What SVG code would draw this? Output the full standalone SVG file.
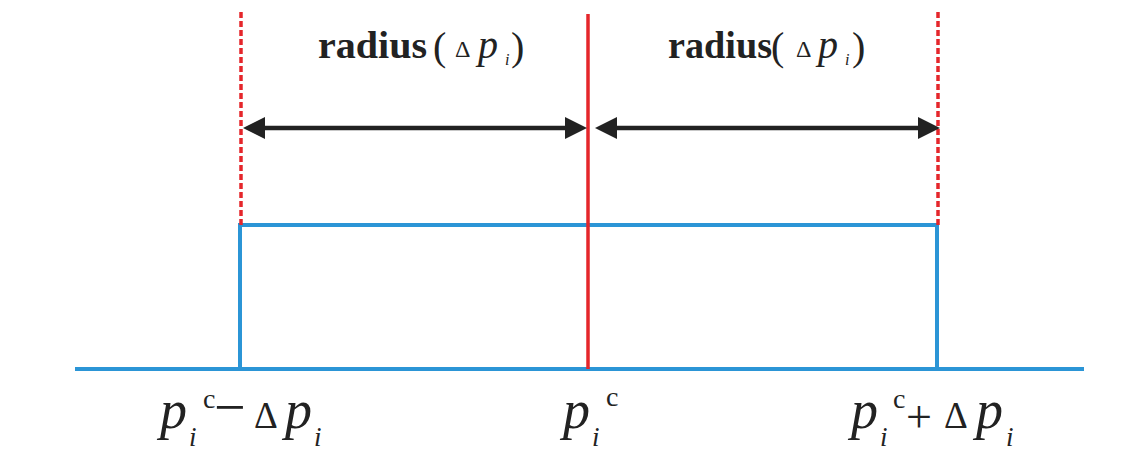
<svg xmlns="http://www.w3.org/2000/svg" width="1143" height="451" viewBox="0 0 1143 451">
<style>
.blue{stroke:#2b95d6;stroke-width:4;fill:none}
.red{stroke:#e5262b;stroke-width:3.5;fill:none}
.dash{stroke:#e5262b;stroke-width:3.5;fill:none;stroke-dasharray:6 3}
.arr{stroke:#222;stroke-width:4.5;fill:none}
.head{fill:#222}
text{font-family:"Liberation Serif","Times New Roman",Times,serif;fill:#222}
.b{font-weight:bold;font-size:38px}
.it{font-style:italic}
</style>
<rect width="1143" height="451" fill="#fff"/>
<g id="baseline"><line class="blue" x1="75" y1="369" x2="1084" y2="369"/></g>
<g id="box"><path class="blue" d="M240 369 V225 H937 V369"/></g>
<g id="centre"><line class="red" x1="588" y1="14" x2="588" y2="369"/></g>
<g id="left-bound"><line class="dash" x1="241" y1="12" x2="241" y2="225"/></g>
<g id="right-bound"><line class="dash" x1="938" y1="12" x2="938" y2="225"/></g>
<g id="connectors">
<line class="arr" x1="258" y1="128" x2="572" y2="128"/>
<path class="head" d="M243 128 L265 117 L265 139 Z"/>
<path class="head" d="M587 128 L565 117 L565 139 Z"/>
<line class="arr" x1="610" y1="128" x2="924" y2="128"/>
<path class="head" d="M595 128 L617 117 L617 139 Z"/>
<path class="head" d="M940 128 L918 117 L918 139 Z"/>
</g>
<g id="label-left">
<text class="b" x="318" y="58" textLength="109" lengthAdjust="spacingAndGlyphs">radius</text>
<text x="433" y="60" font-size="40">(</text>
<text x="455" y="57" font-size="24">Δ</text>
<text class="it" x="478" y="58" font-size="40">p</text>
<text class="it" x="505" y="65" font-size="16">i</text>
<text x="511" y="60" font-size="40">)</text>
</g>
<g id="label-right">
<text class="b" x="668" y="58" textLength="104" lengthAdjust="spacingAndGlyphs">radius</text>
<text x="771" y="60" font-size="40">(</text>
<text x="796" y="57" font-size="24">Δ</text>
<text class="it" x="818" y="58" font-size="40">p</text>
<text class="it" x="845" y="65" font-size="16">i</text>
<text x="852" y="60" font-size="40">)</text>
</g>
<g id="tick-left">
<text class="it" x="160" y="428" font-size="54">p</text>
<text class="it" x="189" y="446" font-size="27">i</text>
<text x="203" y="408" font-size="28">c</text>
<text x="214" y="426" font-size="56">−</text>
<text x="254" y="428" font-size="37">Δ</text>
<text class="it" x="285" y="428" font-size="54">p</text>
<text class="it" x="314" y="446" font-size="27">i</text>
</g>
<g id="tick-centre">
<text class="it" x="563" y="428" font-size="54">p</text>
<text class="it" x="592" y="446" font-size="27">i</text>
<text x="606" y="406" font-size="28">c</text>
</g>
<g id="tick-right">
<text class="it" x="851" y="428" font-size="54">p</text>
<text class="it" x="880" y="446" font-size="27">i</text>
<text x="893" y="408" font-size="28">c</text>
<text x="906" y="432" font-size="46">+</text>
<text x="944" y="428" font-size="37">Δ</text>
<text class="it" x="976" y="428" font-size="54">p</text>
<text class="it" x="1006" y="446" font-size="27">i</text>
</g>
</svg>
